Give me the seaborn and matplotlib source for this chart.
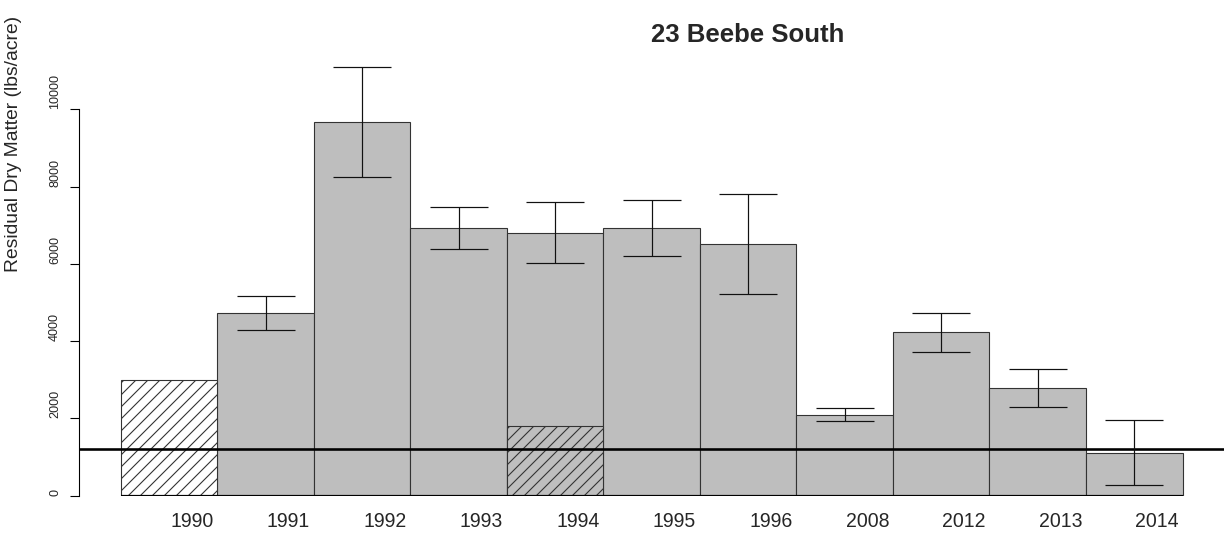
import numpy as np
import pandas as pd
import matplotlib
matplotlib.use("Agg")
import matplotlib.pyplot as plt
import seaborn as sns

# Residual dry matter by sampling year
years = ["1990", "1991", "1992", "1993", "1994", "1995", "1996", "2008", "2012", "2013", "2014"]
mean_rdm = [np.nan, 4730, 9675, 6925, 6810, 6930, 6520, 2100, 4225, 2790, 1115]
sd_rdm = [np.nan, 430, 1415, 540, 785, 735, 1300, 170, 505, 495, 850]
# hatched (estimated) portion of each year's bar
hatched_rdm = [3000, np.nan, np.nan, np.nan, 1800, np.nan, np.nan, np.nan, np.nan, np.nan, np.nan]
rdm_target = 1200
y_ticks = [0, 2000, 4000, 6000, 8000, 10000]

GREY = "#BEBEBE"
EDGE = "#333333"

sns.set_theme(style="white")
plt.rcParams["font.family"] = ["Liberation Sans", "DejaVu Sans"]
plt.rcParams["hatch.linewidth"] = 0.55
plt.rcParams["hatch.color"] = "black"

DPI = 144
W, H = 1224, 535
fig = plt.figure(figsize=(W / DPI, H / DPI), dpi=DPI)
fig.patch.set_facecolor("white")
ax = fig.add_axes([79 / W, (H - 495.7) / H, (W - 79) / W, 463.7 / H])
ax.set_facecolor("white")

df = pd.DataFrame({"year": years, "rdm": mean_rdm, "sd": sd_rdm})
pos = np.arange(len(years))

sns.barplot(data=df, x="year", y="rdm", order=years, width=1.0, color=GREY,
            saturation=1, edgecolor=EDGE, linewidth=0.55, errorbar=None, ax=ax, zorder=2)

# hatched overlay: white background where no measured bar exists
fills = ["white" if np.isnan(m) else GREY for m in mean_rdm]
ax.bar(pos, hatched_rdm, width=1.0, color=fills, edgecolor=EDGE, linewidth=0.55,
       hatch="////", zorder=3)

# bar baseline
ax.hlines(0, pos[0] - 0.5, pos[-1] + 0.5, color="black", lw=1.1, zorder=4)

# target line
ax.axhline(rdm_target, color="black", lw=1.3, zorder=5)

# standard deviation whiskers
ax.errorbar(pos, mean_rdm, yerr=sd_rdm, fmt="none", ecolor="#111111",
            elinewidth=0.6, capsize=14.6, capthick=0.6, zorder=6)

ax.set_xlim(-0.935, 10.93)
ax.set_ylim(0, 12000)

for s in ["top", "right", "bottom"]:
    ax.spines[s].set_visible(False)
ax.spines["left"].set_bounds(y_ticks[0], y_ticks[-1])
ax.spines["left"].set_color("black")
ax.spines["left"].set_linewidth(0.55)

ax.set_yticks(y_ticks)
ax.set_yticklabels([str(t) for t in y_ticks])
ax.tick_params(axis="y", left=True, length=4.5, width=0.55, color="black",
               pad=4.5, labelsize=6.3, labelrotation=90)
for lbl in ax.get_yticklabels():
    lbl.set_va("bottom")

ax.set_xticks(pos + 0.236)
ax.set_xticklabels(years)
ax.tick_params(axis="x", bottom=False, length=0, pad=8.2, labelsize=9.75)

ax.set_xlabel("")
ax.set_ylabel("Residual Dry Matter (lbs/acre)", fontsize=9.6)
ax.yaxis.set_label_coords(22 / W, 1 - 143.5 / H, transform=fig.transFigure)

fig.text(748 / W, 1 - 35 / H, "23 Beebe South", ha="center", va="center",
         fontsize=12.9, fontweight="bold")

fig.savefig("out.png", dpi=DPI, facecolor="white")
